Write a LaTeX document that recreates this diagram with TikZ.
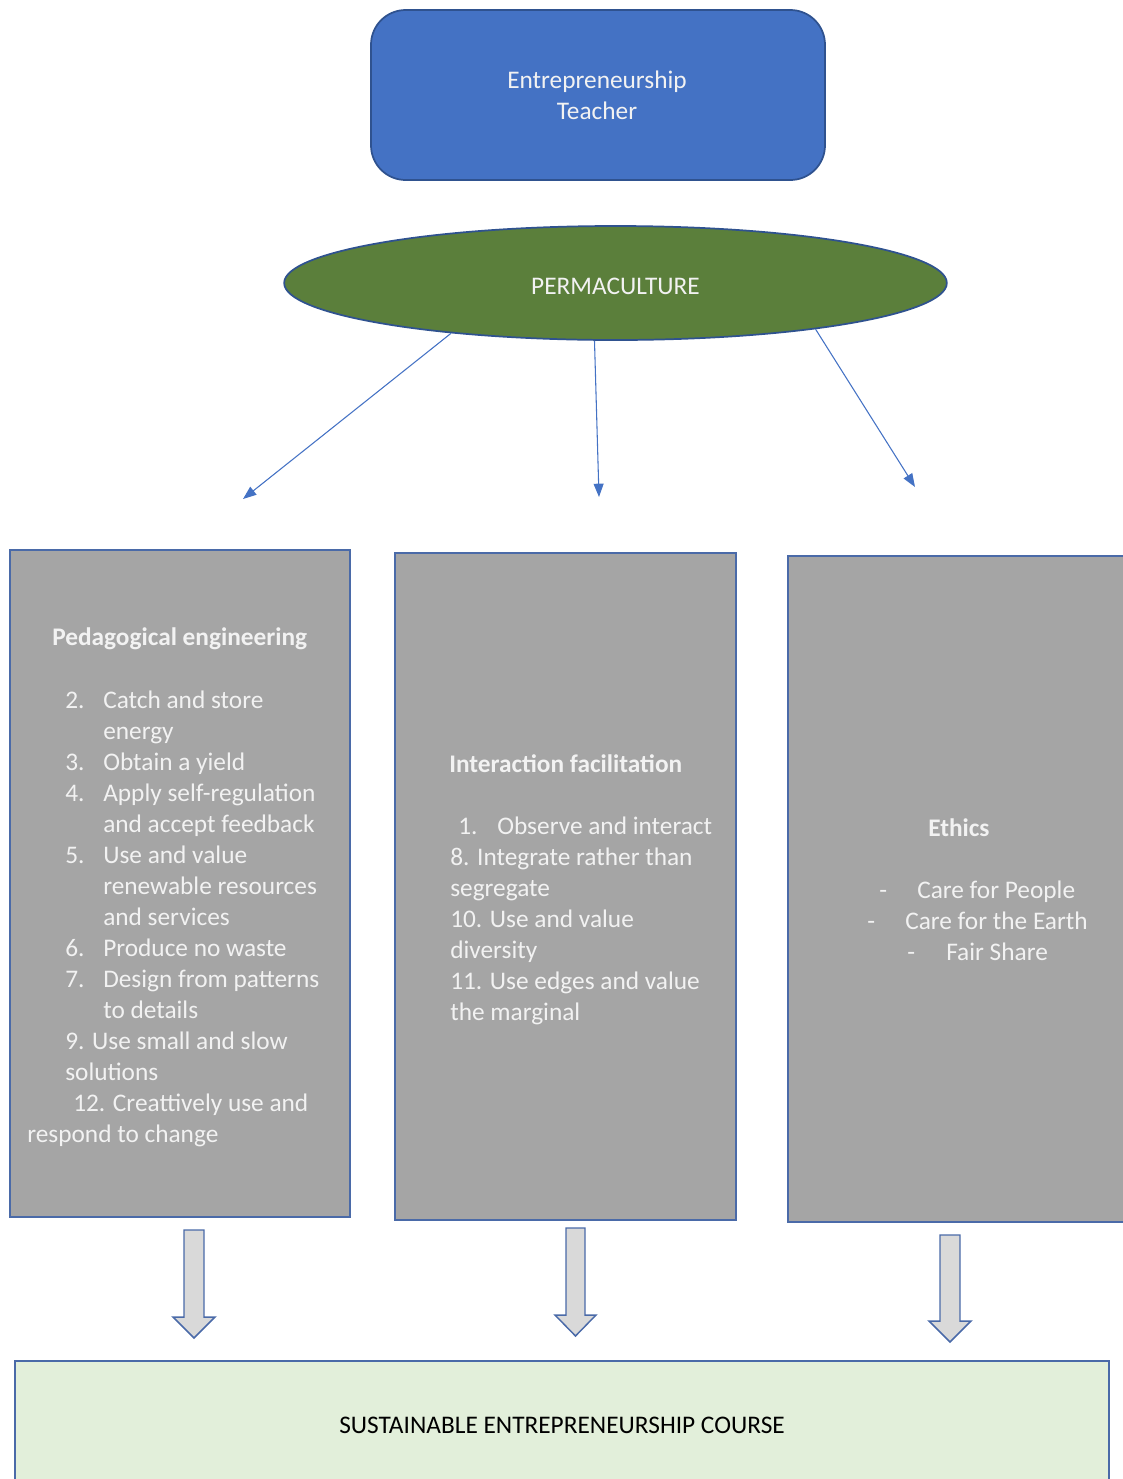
\documentclass[tikz,border=0pt]{standalone}
\usepackage{fontspec}
\setmainfont{Carlito}
\usetikzlibrary{arrows.meta,shapes.geometric}
\definecolor{tblue}{HTML}{4472C4}
\definecolor{dblue}{HTML}{2F528F}
\definecolor{bedge}{HTML}{4A6AA8}
\definecolor{pgreen}{HTML}{5B7F3B}
\definecolor{bgray}{HTML}{A5A5A5}
\definecolor{lgreen}{HTML}{E2EFDA}
\definecolor{agray}{HTML}{D9D9D9}
\definecolor{wtext}{HTML}{F2F2F2}
\tikzset{
  txt/.style={font=\fontsize{19}{23}\selectfont, text=wtext, inner sep=0pt, anchor=base west},
  ctxt/.style={txt, anchor=base},
  btxt/.style={txt, font=\fontsize{19}{23}\selectfont\bfseries},
  tbox/.style={draw=dblue, line width=1.3pt, fill=tblue, rounded corners=26pt, inner sep=0pt},
  permnode/.style={ellipse, draw=dblue, line width=1.3pt, fill=pgreen, inner sep=0pt},
  graybox/.style={draw=bedge, line width=1.3pt, fill=bgray, inner sep=0pt},
  coursebox/.style={draw=bedge, line width=1.3pt, fill=lgreen, inner sep=0pt},
  thinarrow/.style={draw=tblue, line width=0.8pt, -{Triangle[length=10pt,width=7.5pt]}},
  blockarrow/.style={draw=bedge, line width=1.1pt, fill=agray, line join=miter}
}
\begin{document}
\begin{tikzpicture}[x=0.75pt,y=-0.75pt]
\useasboundingbox (0,0) rectangle (1123,1479);
\clip (0,0) rectangle (1123,1479);

% top box
\node[tbox, minimum width=340.5pt, minimum height=127.5pt] (teacher) at (598,95) {};
\node[ctxt] (teacherA) at (597,88) {Entrepreneurship};
\node[ctxt] (teacherB) at (597,119) {Teacher};

% ellipse
\node[permnode, minimum width=497pt, minimum height=85.5pt] (perm) at (615.5,283) {};
\node[ctxt] (permtxt) at (615.5,294) {PERMACULTURE};

% thin arrows
\coordinate (e1) at (243,499);
\coordinate (e2) at (599,497);
\coordinate (e3) at (915,487);
\draw[thinarrow] (perm.197) -- (e1);
\draw[thinarrow] (perm.250) -- (e2);
\draw[thinarrow] (perm.347) -- (e3);

% gray boxes
\node[graybox, minimum width=255pt, minimum height=500pt] (ped) at (180,883.5) {};
\node[graybox, minimum width=255.75pt, minimum height=500pt] (inter) at (565.5,886.5) {};
\node[graybox, minimum width=262pt, minimum height=499.5pt] (eth) at (963,889) {};

% bottom box
\node[coursebox, minimum width=820.5pt, minimum height=100.5pt] (course) at (562,1428) {};
\node[ctxt, text=black] (coursetxt) at (562,1433) {SUSTAINABLE ENTREPRENEURSHIP COURSE};

% block arrows
\draw[blockarrow] (184,1230) -- (204,1230) -- (204,1317) -- (215,1317) -- (194,1338) -- (173,1317) -- (184,1317) -- cycle;
\draw[blockarrow] (566,1228) -- (585,1228) -- (585,1315) -- (596,1315) -- (575.5,1336) -- (555,1315) -- (566,1315) -- cycle;
\draw[blockarrow] (940,1235) -- (960,1235) -- (960,1321) -- (971,1321) -- (950,1342) -- (929,1321) -- (940,1321) -- cycle;

% left box text
\node[btxt] (pedh) at (52,645) {Pedagogical engineering};
\node[txt] (p2n) at (65,708) {2.};
\node[txt] (p2a) at (103,708) {Catch and store};
\node[txt] (p2b) at (103,739) {energy};
\node[txt] (p3n) at (65,770) {3.};
\node[txt] (p3a) at (103,770) {Obtain a yield};
\node[txt] (p4n) at (65,801) {4.};
\node[txt] (p4a) at (103,801) {Apply self-regulation};
\node[txt] (p4b) at (103,832) {and accept feedback};
\node[txt] (p5n) at (65,863) {5.};
\node[txt] (p5a) at (103,863) {Use and value};
\node[txt] (p5b) at (103,894) {renewable resources};
\node[txt] (p5c) at (103,925) {and services};
\node[txt] (p6n) at (65,956) {6.};
\node[txt] (p6a) at (103,956) {Produce no waste};
\node[txt] (p7n) at (65,987) {7.};
\node[txt] (p7a) at (103,987) {Design from patterns};
\node[txt] (p7b) at (103,1018) {to details};
\node[txt] (p9a) at (65,1049) {9. Use small and slow};
\node[txt] (p9b) at (65,1080) {solutions};
\node[txt] (p12a) at (73,1111) {12. Creattively use and};
\node[txt] (p12b) at (27,1142) {respond to change};

% middle box text
\node[btxt] (interh) at (449,772) {Interaction facilitation};
\node[txt] (i1n) at (458,834) {1.};
\node[txt] (i1a) at (497,834) {Observe and interact};
\node[txt] (i8a) at (450,865) {8. Integrate rather than};
\node[txt] (i8b) at (450,896) {segregate};
\node[txt] (i10a) at (450,927) {10. Use and value};
\node[txt] (i10b) at (450,958) {diversity};
\node[txt] (i11a) at (450,989) {11. Use edges and value};
\node[txt] (i11b) at (450,1020) {the marginal};

% right box text
\node[btxt] (ethh) at (928,836) {Ethics};
\node[txt] (e1d) at (879,898) {-};
\node[txt] (e1a) at (917,898) {Care for People};
\node[txt] (e2d) at (867,929) {-};
\node[txt] (e2a) at (905,929) {Care for the Earth};
\node[txt] (e3d) at (907,960) {-};
\node[txt] (e3a) at (946,960) {Fair Share};
\end{tikzpicture}
\end{document}
